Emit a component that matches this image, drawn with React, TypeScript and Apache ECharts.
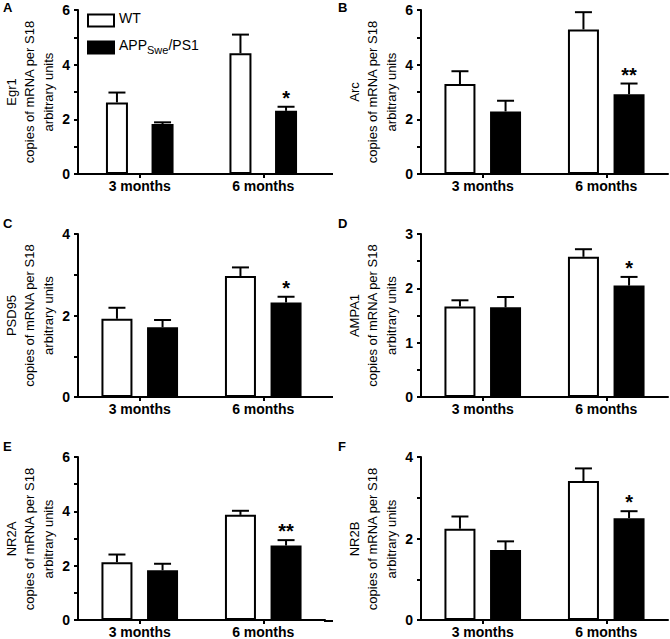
import React, { useEffect, useRef } from "react";
import * as echarts from "echarts";

// ---------- data ----------
const categories = ["3 months", "6 months"];
const seriesNames = ["WT", "APPSwe/PS1"];
const panelLetters = ["A", "B", "C", "D", "E", "F"];
const genes = ["Egr1", "Arc", "PSD95", "AMPA1", "NR2A", "NR2B"];
const yTitleLines = ["copies of mRNA per S18", "arbitrary units"];
const yMaxes = [6, 6, 4, 3, 6, 4];
const yIntervals = [2, 2, 2, 1, 2, 2];

const egr1WT = [2.62, 4.42];
const egr1WTSem = [0.36, 0.68];
const egr1APP = [1.83, 2.31];
const egr1APPSem = [0.06, 0.15];

const arcWT = [3.29, 5.29];
const arcWTSem = [0.47, 0.63];
const arcAPP = [2.29, 2.92];
const arcAPPSem = [0.39, 0.39];

const psd95WT = [1.92, 2.97];
const psd95WTSem = [0.27, 0.21];
const psd95APP = [1.71, 2.32];
const psd95APPSem = [0.18, 0.14];

const ampa1WT = [1.665, 2.58];
const ampa1WTSem = [0.115, 0.14];
const ampa1APP = [1.65, 2.05];
const ampa1APPSem = [0.19, 0.16];

const nr2aWT = [2.13, 3.87];
const nr2aWTSem = [0.28, 0.15];
const nr2aAPP = [1.83, 2.74];
const nr2aAPPSem = [0.24, 0.2];

const nr2bWT = [2.24, 3.41];
const nr2bWTSem = [0.3, 0.31];
const nr2bAPP = [1.72, 2.5];
const nr2bAPPSem = [0.21, 0.17];

// significance marks over APPSwe/PS1 bars (per category)
const egr1Sig = ["", "*"];
const arcSig = ["", "**"];
const psd95Sig = ["", "*"];
const ampa1Sig = ["", "*"];
const nr2aSig = ["", "**"];
const nr2bSig = ["", "*"];

const wtMeans = [egr1WT, arcWT, psd95WT, ampa1WT, nr2aWT, nr2bWT];
const wtSems = [egr1WTSem, arcWTSem, psd95WTSem, ampa1WTSem, nr2aWTSem, nr2bWTSem];
const appMeans = [egr1APP, arcAPP, psd95APP, ampa1APP, nr2aAPP, nr2bAPP];
const appSems = [egr1APPSem, arcAPPSem, psd95APPSem, ampa1APPSem, nr2aAPPSem, nr2bAPPSem];
const sigMarks = [egr1Sig, arcSig, psd95Sig, ampa1Sig, nr2aSig, nr2bSig];

// ---------- layout ----------
const FONT = "'Liberation Sans', Arial, Helvetica, sans-serif";
const colLeft = [78, 421];
const gridWidth = 247;
const rowTop = [10, 234, 457];
const rowHeight = [164, 163, 164];
const letterTop = [1, 217, 440];
const letterLeft = [3, 338];

function buildOption() {
  const grids: any[] = [];
  const xAxes: any[] = [];
  const yAxes: any[] = [];
  const series: any[] = [];
  const titles: any[] = [];
  const graphics: any[] = [];

  for (let i = 0; i < 6; i++) {
    const col = i % 2;
    const row = Math.floor(i / 2);
    const barWidth = i === 0 ? 22 : 31;
    const spacing = 45.6; // distance between the two bar centres in a group
    const barGap = ((spacing - barWidth) / barWidth) * 100 + "%";
    const half = spacing / 2;

    grids.push({
      left: colLeft[col],
      top: rowTop[row],
      width: gridWidth,
      height: rowHeight[row],
    });
    titles.push({
      text: panelLetters[i],
      left: letterLeft[col],
      top: letterTop[row],
      padding: 0,
      textStyle: { fontSize: 13, fontWeight: "bold", color: "#000", fontFamily: FONT },
    });

    // rotated, centred three-line y-axis title
    const lines = [genes[i], ...yTitleLines];
    const cy = rowTop[row] + rowHeight[row] / 2;
    lines.forEach((t, k) => {
      graphics.push({
        type: "text",
        x: colLeft[col] - 67 + 18.5 * k,
        y: cy,
        rotation: Math.PI / 2,
        silent: true,
        style: {
          text: t,
          fontSize: 13,
          fontFamily: FONT,
          fill: "#000",
          align: "center",
          verticalAlign: "middle",
        },
      });
    });

    // left-column x-axis line runs a little past the plot area in the original
    if (col === 0) {
      const yb = rowTop[row] + rowHeight[row];
      graphics.push({
        type: "line",
        silent: true,
        shape: { x1: colLeft[col] + gridWidth - 1, y1: yb, x2: colLeft[col] + gridWidth + 8, y2: yb },
        style: { stroke: "#000", lineWidth: 2 },
      });
    }

    xAxes.push({
      type: "category",
      gridIndex: i,
      data: categories,
      axisLine: { show: true, lineStyle: { color: "#000", width: 2 } },
      axisTick: { show: true, alignWithLabel: true, length: 4, lineStyle: { color: "#000", width: 2 } },
      axisLabel: {
        interval: 0,
        margin: 5,
        color: "#000",
        fontSize: 14,
        fontWeight: "bold",
        fontFamily: FONT,
      },
      splitLine: { show: false },
    });
    yAxes.push({
      type: "value",
      gridIndex: i,
      min: 0,
      max: yMaxes[i],
      interval: yIntervals[i],
      axisLine: { show: true, lineStyle: { color: "#000", width: 2 } },
      axisTick: { show: true, length: 4, lineStyle: { color: "#000", width: 2 } },
      minorTick: { show: true, splitNumber: 2, length: 4, lineStyle: { color: "#000", width: 2 } },
      axisLabel: { margin: 8, color: "#000", fontSize: 14, fontWeight: "bold", fontFamily: FONT },
      splitLine: { show: false },
      minorSplitLine: { show: false },
    });

    series.push({
      name: seriesNames[0],
      type: "bar",
      xAxisIndex: i,
      yAxisIndex: i,
      data: wtMeans[i],
      barWidth,
      barGap,
      itemStyle: { color: "#fff", borderColor: "#000", borderWidth: 2 },
      silent: true,
      z: 2,
    });
    series.push({
      name: seriesNames[1],
      type: "bar",
      xAxisIndex: i,
      yAxisIndex: i,
      data: appMeans[i],
      barWidth,
      barGap,
      itemStyle: { color: "#000", borderColor: "#000", borderWidth: 2 },
      silent: true,
      z: 2,
    });

    const errData: any[] = [];
    for (let j = 0; j < categories.length; j++) {
      errData.push([j, wtMeans[i][j], wtMeans[i][j] + wtSems[i][j], 0]);
      errData.push([j, appMeans[i][j], appMeans[i][j] + appSems[i][j], 1]);
    }
    const sig = sigMarks[i];
    series.push({
      type: "custom",
      xAxisIndex: i,
      yAxisIndex: i,
      data: errData,
      silent: true,
      z: 3,
      renderItem: (params: any, api: any) => {
        const cat = api.value(0);
        const which = api.value(3);
        const base = api.coord([cat, api.value(1)]);
        const top = api.coord([cat, api.value(2)]);
        const x = base[0] + (which === 0 ? -half : half);
        const children: any[] = [
          {
            type: "line",
            shape: { x1: x, y1: base[1], x2: x, y2: top[1] },
            style: { stroke: "#000", lineWidth: 2 },
          },
          {
            type: "line",
            shape: { x1: x - 8.5, y1: top[1], x2: x + 8.5, y2: top[1] },
            style: { stroke: "#000", lineWidth: 2 },
          },
        ];
        const mark = which === 1 ? sig[cat] : "";
        if (mark) {
          children.push({
            type: "text",
            x,
            y: top[1] - 9,
            style: {
              text: mark,
              fontSize: 20,
              fontWeight: "bold",
              fontFamily: FONT,
              fill: "#000",
              align: "center",
              verticalAlign: "middle",
            },
          });
        }
        return { type: "group", children };
      },
    });
  }

  return {
    animation: false,
    backgroundColor: "#fff",
    title: titles,
    graphic: graphics,
    legend: {
      orient: "vertical",
      left: 87,
      top: 11,
      padding: 0,
      itemWidth: 26,
      itemHeight: 12,
      itemGap: 10,
      selectedMode: false,
      icon: "rect",
      data: [
        { name: seriesNames[0], itemStyle: { color: "#fff", borderColor: "#000", borderWidth: 2 } },
        { name: seriesNames[1], itemStyle: { color: "#000", borderColor: "#000", borderWidth: 2 } },
      ],
      formatter: (name: string) =>
        name === seriesNames[0] ? "{m|WT}" : "{m|APP}{s|Swe}{m|/PS1}",
      textStyle: {
        color: "#000",
        fontSize: 14,
        fontFamily: FONT,
        rich: {
          m: { fontSize: 14, fontFamily: FONT, color: "#000", verticalAlign: "bottom", lineHeight: 15, padding: [0, 0, 3, 0] },
          s: { fontSize: 11, fontFamily: FONT, color: "#000", verticalAlign: "bottom", lineHeight: 12 },
        },
      },
    },
    grid: grids,
    xAxis: xAxes,
    yAxis: yAxes,
    series,
  };
}

export default function App() {
  const ref = useRef<HTMLDivElement>(null);
  useEffect(() => {
    document.body.style.margin = "0";
    if (!ref.current) return;
    const chart = echarts.init(ref.current, undefined, { renderer: "svg" });
    chart.setOption(buildOption() as any);
    return () => chart.dispose();
  }, []);
  return <div ref={ref} style={{ width: 670, height: 639, background: "#fff" }} />;
}
